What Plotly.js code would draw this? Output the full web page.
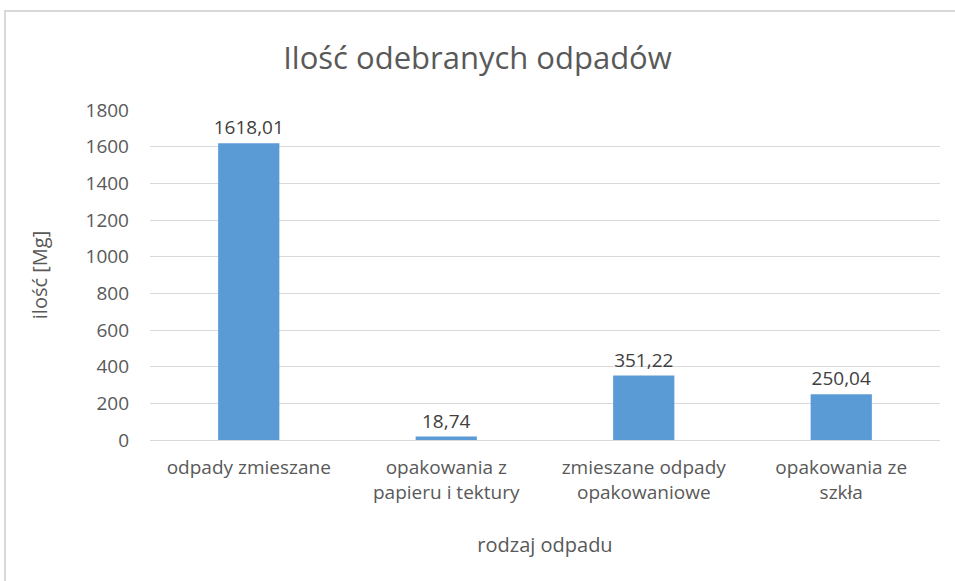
<!DOCTYPE html>
<html>
<head>
<meta charset="utf-8">
<script src="https://cdn.plot.ly/plotly-3.0.1.min.js"></script>
<style>
  body { margin: 0; background: #fff; }
  #frame {
    position: absolute; left: 4px; top: 10px; width: 960px; height: 580px;
    border-top: 2px solid #d9d9d9; border-left: 2px solid #d9d9d9;
  }
  #chart { position: absolute; left: 0; top: 0; width: 955px; height: 581px; }
</style>
</head>
<body>
<div id="frame"></div>
<div id="chart"></div>
<script>
// rodzaje odpadów i ilości [Mg]
const categories = [
  "odpady zmieszane",
  "opakowania z<br>papieru i tektury",
  "zmieszane odpady<br>opakowaniowe",
  "opakowania ze<br>szkła",
];
const values = [1618.01, 18.74, 351.22, 250.04];
const valueLabels = ["1618,01", "18,74", "351,22", "250,04"];
const yTicks = [0, 200, 400, 600, 800, 1000, 1200, 1400, 1600, 1800];

const fontFamily = "'Open Sans', 'Noto Sans', sans-serif";

const trace = {
  x: categories,
  y: values,
  type: "bar",
  width: 0.31,
  marker: { color: "#5b9bd5" },
  text: valueLabels,
  textposition: "outside",
  constraintext: "none",
  textfont: { color: "#404040", size: 19, family: fontFamily },
  cliponaxis: false,
};

const layout = {
  width: 955,
  height: 581,
  showlegend: false,
  paper_bgcolor: "rgba(0,0,0,0)",
  plot_bgcolor: "rgba(0,0,0,0)",
  font: { family: fontFamily, color: "#595959" },
  margin: { l: 150, r: 15, t: 110, b: 141 },
  title: {
    text: "Ilość odebranych odpadów",
    font: { size: 31, color: "#595959", family: fontFamily },
    x: 0.5,
    xanchor: "center",
    y: 0.9,
    yanchor: "middle",
  },
  xaxis: {
    type: "category",
    tickfont: { size: 19, color: "#595959" },
    showline: false,
    ticks: "",
    ticklabelstandoff: 14,
    title: { text: "rodzaj odpadu", font: { size: 20, color: "#595959" }, standoff: 34 },
  },
  yaxis: {
    range: [0, 1800],
    tickvals: yTicks,
    tickfont: { size: 19, color: "#595959" },
    gridcolor: "#d9d9d9",
    gridwidth: 1,
    zeroline: true,
    zerolinecolor: "#d9d9d9",
    ticks: "",
    ticklabelstandoff: 20,
    title: { text: "ilość [Mg]", font: { size: 20, color: "#595959" }, standoff: 32 },
  },
};

Plotly.newPlot("chart", [trace], layout, { staticPlot: true });
</script>
</body>
</html>
